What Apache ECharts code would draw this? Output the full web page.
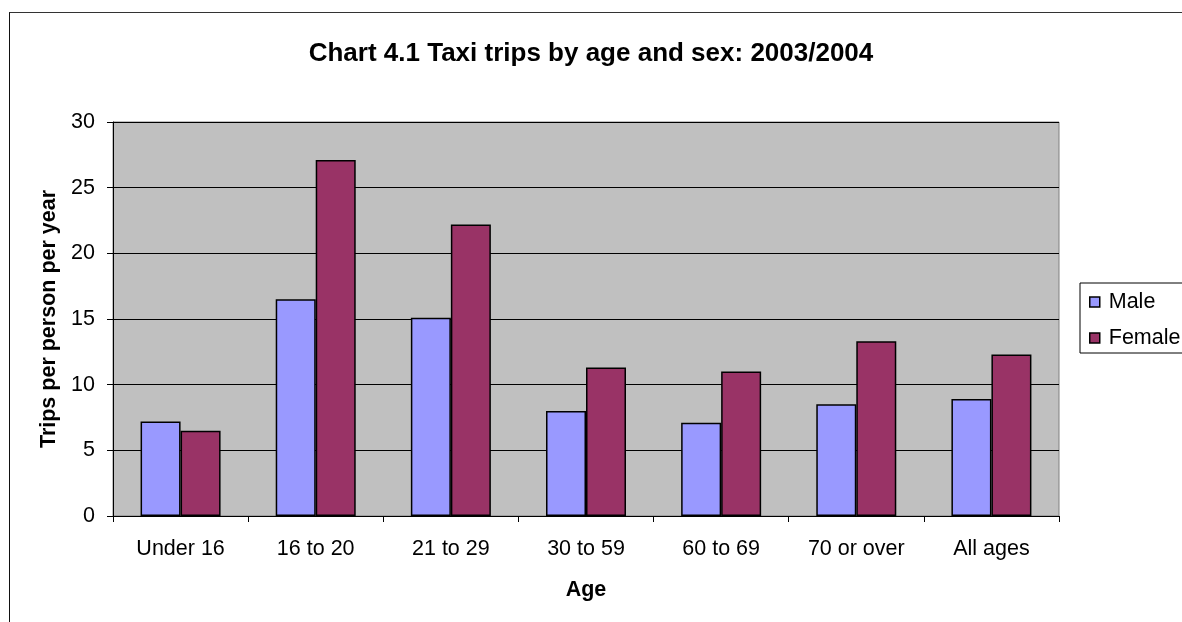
<!DOCTYPE html>
<html>
<head>
<meta charset="utf-8">
<script src="https://cdn.jsdelivr.net/npm/echarts@6/dist/echarts.min.js"></script>
<style>
html,body{margin:0;padding:0;background:#fff;}
#frame{position:absolute;left:9px;top:12px;width:1180px;height:620px;border-left:1.5px solid #111;border-top:1.5px solid #333;}
#chart{position:absolute;left:0;top:0;width:1182px;height:622px;}
</style>
</head>
<body>
<div id="frame"></div>
<div id="chart"></div>
<script>
const categories = ['Under 16', '16 to 20', '21 to 29', '30 to 59', '60 to 69', '70 or over', 'All ages'];
const male = [7.2, 16.5, 15.1, 8.0, 7.1, 8.5, 8.9];
const female = [6.5, 27.1, 22.2, 11.3, 11.0, 13.3, 12.3];
const yTicks = {min: 0, max: 30, interval: 5};

const font = 'Liberation Sans, Arial, sans-serif';
const fs = 21.5;
const chart = echarts.init(document.getElementById('chart'));
chart.setOption({
  animation: false,
  textStyle: {fontFamily: font},
  title: {
    text: 'Chart 4.1 Taxi trips by age and sex: 2003/2004',
    left: 'center', top: 36,
    textStyle: {fontFamily: font, fontSize: 26, fontWeight: 'bold', color: '#000'}
  },
  legend: {
    orient: 'vertical',
    left: 1080, top: 283,
    itemWidth: 10, itemHeight: 10,
    itemGap: 14,
    padding: [8, 40, 4, 9],
    borderColor: '#000', borderWidth: 1,
    icon: 'rect',
    itemStyle: {borderColor: '#000', borderWidth: 1.5},
    textStyle: {fontFamily: font, fontSize: fs, color: '#000', padding: [0,0,0,4]},
    data: ['Male', 'Female']
  },
  grid: {
    left: 113, right: 123, top: 122, bottom: 106,
    show: true, backgroundColor: '#C0C0C0', borderColor: '#808080', borderWidth: 1
  },
  xAxis: {
    type: 'category',
    data: categories,
    name: 'Age', nameLocation: 'middle', nameGap: 63,
    nameTextStyle: {fontFamily: font, fontSize: fs, fontWeight: 'bold', color: '#000'},
    axisLine: {lineStyle: {color: '#000', width: 1}},
    axisTick: {show: true, length: 6, alignWithLabel: false, lineStyle: {color: '#000'}},
    axisLabel: {fontFamily: font, fontSize: fs, color: '#000', margin: 22}
  },
  yAxis: {
    type: 'value',
    min: yTicks.min, max: yTicks.max, interval: yTicks.interval,
    name: 'Trips per person per year', nameLocation: 'middle', nameGap: 51,
    nameTextStyle: {fontFamily: font, fontSize: fs, fontWeight: 'bold', color: '#000'},
    axisLine: {show: true, lineStyle: {color: '#000', width: 1}},
    axisTick: {show: true, length: 6, lineStyle: {color: '#000'}},
    axisLabel: {fontFamily: font, fontSize: fs, color: '#000', margin: 18},
    splitLine: {show: true, lineStyle: {color: '#000', width: 1}}
  },
  series: [
    {name: 'Male', type: 'bar', data: male, barWidth: 40, barGap: '0%',
     itemStyle: {color: '#9999FF', borderColor: '#000', borderWidth: 1.5}},
    {name: 'Female', type: 'bar', data: female, barWidth: 40, barGap: '0%',
     itemStyle: {color: '#993366', borderColor: '#000', borderWidth: 1.5}}
  ]
});
</script>
</body>
</html>
